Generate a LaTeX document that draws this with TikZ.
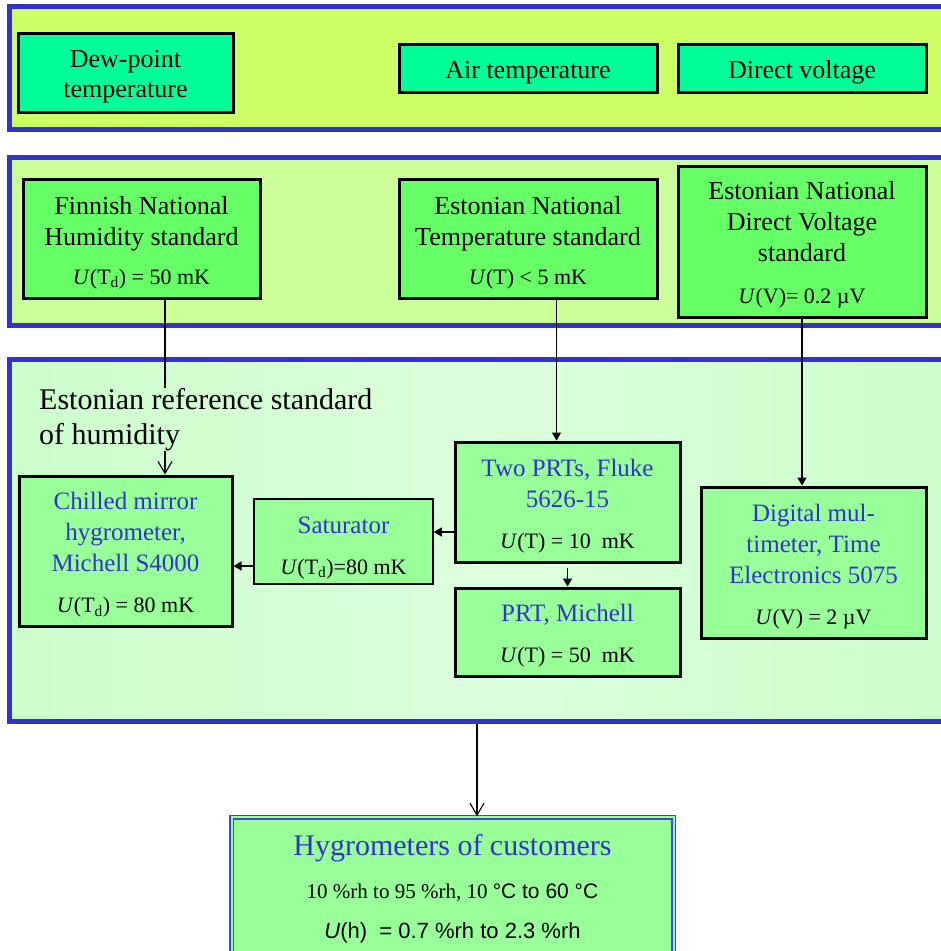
\documentclass[tikz,border=0pt]{standalone}
\usepackage{fontspec}
\setmainfont{Liberation Serif}
\newfontfamily\arialf{Liberation Sans}
\usetikzlibrary{arrows.meta}
\definecolor{bandblue}{HTML}{3333CC}
\definecolor{bt}{HTML}{3333CC}
\definecolor{fillA}{HTML}{CCFF66}
\definecolor{fillB}{HTML}{CCFF99}
\definecolor{fillC1}{HTML}{CCFFCC}
\definecolor{fillC2}{HTML}{DCFFDC}
\definecolor{boxA}{HTML}{00FF99}
\definecolor{boxB}{HTML}{66FF66}
\definecolor{boxC}{HTML}{99FF99}
\definecolor{hygline}{HTML}{4444DD}
\newcommand\myfs[2]{\fontsize{#1}{#2}\selectfont}
\newcommand\bl[1]{\textcolor{bt}{#1}}
\newcommand\smline[1]{{\myfs{22}{31}#1}}
\newcommand\strt[1]{\rule{0pt}{#1pt}}
\begin{document}
\begin{tikzpicture}[x=1pt,y=-1pt,
  band/.style={draw=bandblue, line width=5, inner sep=0, minimum width=956},
  boxa/.style={draw=black, line width=3, fill=boxA, align=center, inner sep=0, font=\myfs{26}{30}},
  boxb/.style={draw=black, line width=3, fill=boxB, align=center, inner sep=0, font=\myfs{26}{31}},
  boxc/.style={draw=black, line width=3, fill=boxC, align=center, inner sep=0, font=\myfs{25}{31}},
  conn/.style={draw=black, line width=1.6},
  farr/.style={conn, -{Triangle[length=8,width=9]}},
  oarr/.style={draw=black, line width=1.1, -{Straight Barb[length=12,width=14,line width=1.1]}}
]
\useasboundingbox (0,0) rectangle (941,951);
\clip (0,0) rectangle (941,951);
\fill[white] (0,0) rectangle (941,951);

% bands
\node[band, fill=fillA, minimum height=123] (band1) at (487,68) {};
\node[band, fill=fillB, minimum height=168] (band2) at (487,241.5) {};
\node[band, left color=fillC1, right color=fillC1, middle color=fillC2, minimum height=362] (band3) at (487,540.5) {};

% band 1 boxes
\node[boxa, minimum width=215, minimum height=79] (dew) at (125.5,72.5) {\strt{26}Dew-point\\temperature};
\node[boxa, minimum width=258, minimum height=48] (air) at (528,68) {\strt{26}Air temperature};
\node[boxa, minimum width=248, minimum height=48] (dv) at (802,68) {\strt{26}Direct voltage};

% band 2 boxes
\node[boxb, minimum width=237, minimum height=119] (fin) at (141.5,238.5)
  {\strt{26}Finnish National\\Humidity standard\\[8pt]\smline{\textit{U}(T\textsubscript{d}) = 50 mK}};
\node[boxb, minimum width=258, minimum height=119] (temp) at (528,238.5)
  {\strt{26}Estonian National\\Temperature standard\\[8pt]\smline{\textit{U}(T) < 5 mK}};
\node[boxb, minimum width=248, minimum height=151] (volt) at (802,241.5)
  {\strt{25}Estonian National\\Direct Voltage\\standard\\[11pt]\smline{\textit{U}(V)= 0.2 µV}};

% band 3
\node[anchor=north west, align=left, inner sep=0, font=\myfs{30}{35}] (estlabel) at (39,388)
  {Estonian reference standard\\of humidity};
\node[boxc, minimum width=213, minimum height=150] (chill) at (125.5,551)
  {\strt{25}\bl{Chilled mirror}\\\bl{hygrometer,}\\\bl{Michell S4000}\\[10pt]\smline{\textit{U}(T\textsubscript{d}) = 80 mK}};
\node[boxc, line width=1.5, minimum width=179, minimum height=85] (sat) at (343.5,541.5)
  {\strt{29}\bl{Saturator}\\[10pt]\smline{\textit{U}(T\textsubscript{d})=80 mK}};
\node[boxc, minimum width=225, minimum height=120] (prts) at (567.5,502)
  {\strt{25}\bl{Two PRTs, Fluke}\\\bl{5626-15}\\[10pt]\smline{\textit{U}(T) = 10 \ mK}};
\node[boxc, minimum width=225, minimum height=88] (mich) at (567.5,632)
  {\strt{25}\bl{PRT, Michell}\\[10pt]\smline{\textit{U}(T) = 50 \ mK}};
\node[boxc, minimum width=225, minimum height=151] (dmm) at (813.5,562.5)
  {\strt{25}\bl{Digital mul-}\\\bl{timeter, Time}\\\bl{Electronics 5075}\\[10pt]\smline{\textit{U}(V) = 2 µV}};

% customers
\node[draw=hygline, line width=1.5, double=boxC, double distance=2, fill=boxC,
      minimum width=442, minimum height=140, inner sep=0, align=center, font=\myfs{21}{40}] (hyg) at (452.5,887)
  {\strt{25}\bl{\myfs{30}{40}Hygrometers of customers}\\[3pt]
   10 \%rh to 95 \%rh, 10 {\arialf °C to 60 °C}\\
   {\arialf\myfs{22}{40}\textit{U}(h) \ = 0.7 \%rh to 2.3 \%rh}};

% connector x/y positions
\coordinate (c1) at (165,0);
\coordinate (c2) at (556.5,0);
\coordinate (c3) at (802,0);
\coordinate (c4) at (477,0);
\coordinate (c5) at (0,532);
\coordinate (c6) at (0,566);

\draw[conn] (c1 |- fin.south) -- (c1 |- estlabel.north);
\draw[oarr] (c1 |- estlabel.south) -- (c1 |- chill.north);
\draw[farr] (c2 |- temp.south) -- (c2 |- prts.north);
\draw[farr] (c3 |- volt.south) -- (c3 |- dmm.north);
\draw[farr] (prts.west |- c5) -- (sat.east |- c5);
\draw[farr] (sat.west |- c6) -- (chill.east |- c6);
\draw[farr, shorten <=4] (prts.south) -- (mich.north);
\draw[oarr] (c4 |- band3.south) -- (c4 |- hyg.north);
\end{tikzpicture}
\end{document}
